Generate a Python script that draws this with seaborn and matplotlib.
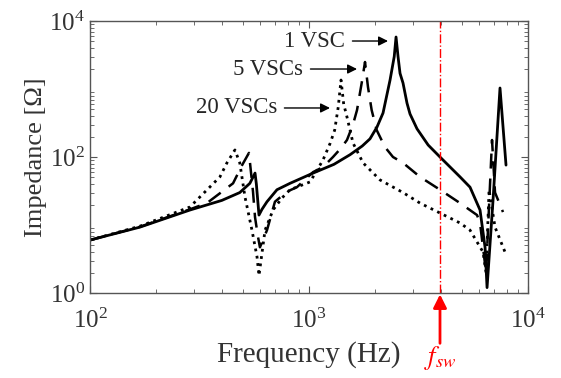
import matplotlib
matplotlib.use('Agg')
import matplotlib.pyplot as plt
import seaborn as sns

# --- data (Hz, Ohm) ---
freq_1 = [100, 169, 286, 400, 483, 537, 567, 575, 591, 610, 643, 714, 819, 1044, 1300, 1539,
          1750, 1899, 2044, 2178, 2344, 2450, 2497, 2550, 2604, 2687, 2802, 2892, 3113, 3500,
          3964, 4893, 5435, 6038, 6366, 6501, 6922, 7449, 7935]
z_1 = [6.0, 9.3, 16.6, 23, 30, 41, 58, 40, 14, 17, 22, 33, 41, 58, 78, 108,
       145, 185, 276, 444, 1350, 3000, 5820, 3000, 1700, 1225, 620, 430, 260, 150,
       100, 51, 36, 16.6, 4.7, 1.2, 23, 1035, 76]

freq_5 = [100, 169, 286, 342, 450, 495, 532, 555, 567, 585, 597, 643, 699, 794, 881, 1044,
          1158, 1287, 1400, 1491, 1588, 1657, 1740, 1802, 1859, 1932, 2037, 2223, 2418,
          2687, 3212, 3964, 4893, 5851, 6038, 6433, 6850, 7069, 7687]
z_5 = [6.0, 9.4, 17, 21, 41, 76, 115, 31, 13, 6.7, 4.7, 8.4, 22, 31, 36, 60,
       71, 100, 135, 178, 300, 491, 1225, 2495, 1070, 491, 249, 140, 100,
       82, 51, 33, 21, 14, 10.7, 2.0, 178, 30, 15.5]

freq_20 = [100, 169, 286, 392, 422, 459, 483, 510, 549, 579, 591, 630, 685, 753, 819, 1011,
           1158, 1250, 1310, 1360, 1400, 1440, 1491, 1588, 1765, 2110, 2687, 3212, 3964, 4893,
           5435, 6232, 6433, 6640, 7069, 7852]
z_20 = [6.0, 9.6, 18.4, 51, 82, 127, 82, 26, 8.4, 3.4, 1.8, 8.4, 16.6, 25, 33, 43,
        90, 160, 249, 544, 1356, 600, 387, 161, 82, 46, 30, 21, 15, 10.7,
        8.4, 4.0, 2.0, 33, 9.3, 4.0]

labels = ['1 VSC', '5 VSCs', '20 VSCs']
tips = [(2295, 5080), (1657, 1968), (1247, 526)]
text_pos = [(1460, 5080), (939, 1968), (714, 526)]
f_sw = 3964

sns.set_style('ticks')
plt.rcParams['font.family'] = ['Liberation Serif', 'DejaVu Serif']
plt.rcParams['mathtext.fontset'] = 'stix'
plt.rcParams['xtick.direction'] = 'in'
plt.rcParams['ytick.direction'] = 'in'

fig = plt.figure(figsize=(5.61, 3.78), dpi=100)
ax = fig.add_axes([0.1604, 0.2249, 0.7808, 0.7195])

sns.lineplot(x=freq_1, y=z_1, ax=ax, color='black', lw=2.0, sort=False, estimator=None)
sns.lineplot(x=freq_5, y=z_5, ax=ax, color='black', lw=1.8, sort=False, estimator=None)
ax.lines[-1].set_dashes([6, 4])
sns.lineplot(x=freq_20, y=z_20, ax=ax, color='black', lw=2.0, sort=False, estimator=None)
ax.lines[-1].set_linestyle(':')

ax.axvline(f_sw, color='red', lw=1.0, ls='-.')

ax.set_xscale('log')
ax.set_yscale('log')
ax.set_xlim(100, 10000)
ax.set_ylim(1, 10000)
ax.set_yticks([1, 100, 10000])

ax.tick_params(which='both', top=True, right=True, colors='#555555', labelcolor='#333333',
               labelsize=18)
ax.tick_params(axis='x', which='major', pad=11)
ax.tick_params(which='major', length=5, width=0.8)
ax.tick_params(which='minor', length=3, width=0.6)
for s in ax.spines.values():
    s.set_color('#555555')
    s.set_linewidth(1.0)

ax.set_xlabel('Frequency (Hz)', fontsize=21, color='#333333', labelpad=6)
ax.set_ylabel('Impedance [\u03a9]', fontsize=19, color='#333333', labelpad=2)

for lab, tip, pos in zip(labels, tips, text_pos):
    ax.annotate(lab, xy=tip, xytext=pos, ha='right', va='center', fontsize=16.5,
                arrowprops=dict(arrowstyle='-|>', color='black', lw=1.0,
                                mutation_scale=14, shrinkA=3, shrinkB=0))

ax.annotate('', xy=(f_sw, -0.005), xytext=(f_sw, -0.185),
            xycoords=('data', 'axes fraction'), textcoords=('data', 'axes fraction'),
            arrowprops=dict(arrowstyle='-|>', color='red', lw=2.0, mutation_scale=20,
                            shrinkA=0, shrinkB=0))
ax.text(f_sw, -0.24, r'$f_{sw}$', transform=ax.get_xaxis_transform(), color='red',
        fontsize=19, ha='center', va='center')

fig.savefig('out.png', dpi=100)
